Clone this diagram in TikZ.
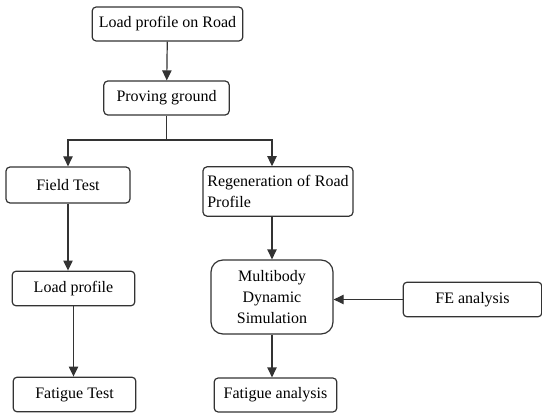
\documentclass[tikz,border=0pt]{standalone}
\usepackage{fontspec}
\setmainfont{Liberation Serif}
\usetikzlibrary{arrows.meta}

\tikzset{every picture/.style={line width=0.9pt}}
\tikzset{
	box/.style={draw=black!80, rounded corners=3pt, inner sep=1pt, font=\fontsize{12}{15.75}\selectfont, align=center},
	arr/.style={draw=black!80, -{Triangle[length=7.5pt,width=7pt]}},
	lin/.style={draw=black!80}
}

\begin{document}
\begin{tikzpicture}[x=0.75pt,y=0.75pt,yscale=-1,xscale=1]
	\useasboundingbox (0,0) rectangle (542,413);
	
	% top
	\node[box, minimum width=113pt, minimum height=25.5pt] (road) at (167.5,24) {Load profile on Road};
	\node[box, minimum width=94pt, minimum height=25.5pt] (ground) at (166.5,98) {Proving ground};
	\coordinate (split) at (166.5,140);
	
	% left column
	\node[box, minimum width=93pt, minimum height=27pt] (field) at (68,185) {Field Test};
	\node[box, minimum width=92pt, minimum height=26pt] (load) at (73.5,288.5) {Load profile};
	\node[box, minimum width=92pt, minimum height=26pt] (ftest) at (74.5,394.5) {Fatigue Test};
	
	% right column
	\node[box, minimum width=112.5pt, minimum height=37pt, align=left] (regen) at (278,191.5) {\makebox[106pt][l]{Regeneration\hfill of\hfill Road}\\Profile};
	\node[box, rounded corners=9pt, minimum width=91.5pt, minimum height=55.5pt] (multi) at (272,297) {Multibody\\Dynamic\\Simulation};
	\node[box, minimum width=104pt, minimum height=26pt] (fe) at (472.5,299.5) {FE analysis};
	\node[box, minimum width=92pt, minimum height=25.5pt] (fana) at (275.5,395) {Fatigue analysis};
	
	% connectors
	\draw[arr] (road) -- (ground);
	\draw[lin] (ground.south) -- (split);
	\draw[arr] (split) -| (field.north);
	\draw[arr] (split) -| (multi.north |- regen.north);
	\draw[arr] (multi.north |- regen.south) -- (multi.north);
	\draw[arr] (field.south) -- (field.south |- load.north);
	\draw[arr] (load.south) -- (load.south |- ftest.north);
	\draw[arr] (fe.west) -- (fe.west -| multi.east);
	\draw[arr] (multi.south) -- (multi.south |- fana.north);
	
\end{tikzpicture}
\end{document}
